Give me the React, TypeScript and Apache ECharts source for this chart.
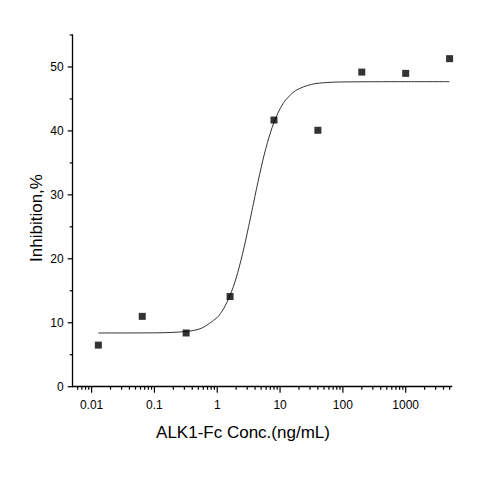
import { useEffect, useRef } from "react";
import * as echarts from "echarts";

// measured points (x in ng/mL, y in %)
const concentrations = [0.0128, 0.064, 0.32, 1.6, 8, 40, 200, 1000, 5000];
const inhibition = [6.5, 11.0, 8.4, 14.1, 41.7, 40.1, 49.2, 49.0, 51.3];

// fitted curve
const curveX = [
  0.0128, 0.1, 0.316, 0.562, 1, 1.12, 1.26, 1.41, 1.58, 1.78, 2.0, 2.24, 2.51,
  2.82, 3.16, 3.55, 3.98, 4.47, 5.01, 5.62, 6.31, 7.08, 7.94, 8.91, 10, 11.2,
  12.6, 17.8, 31.6, 56.2, 100, 1000, 5000,
];
const curveY = [
  8.4, 8.42, 8.63, 9.15, 10.82, 11.43, 12.18, 13.09, 14.18, 15.48, 16.99, 18.72,
  20.66, 22.79, 25.06, 27.41, 29.78, 32.1, 34.31, 36.36, 38.2, 39.83, 41.25,
  42.45, 43.45, 44.29, 44.97, 46.33, 47.28, 47.57, 47.66, 47.7, 47.7,
];

const xMin = 0.005;
const xMax = 5400;
const yMin = 0;
const yMax = 55;

const xMajorTicks = [0.01, 0.1, 1, 10, 100, 1000];
const xDecades = [0.001, 0.01, 0.1, 1, 10, 100, 1000];
const xMinorSteps = [2, 3, 4, 5, 6, 7, 8, 9];
const yMajorTicks = [0, 10, 20, 30, 40, 50];
const yMinorTicks = [5, 15, 25, 35, 45, 55];

const xTitle = "ALK1-Fc Conc.(ng/mL)";
const yTitle = "Inhibition,%";

function App() {
  const chartRef = useRef<HTMLDivElement>(null);

  useEffect(() => {
    if (!chartRef.current) return;
    document.body.style.margin = "0";
    const chart = echarts.init(chartRef.current, null, { renderer: "svg" });

    // tick marks: [x, y, length, direction (0 = down, 1 = left)]
    const ticks: number[][] = [];
    xMajorTicks.forEach((v) => ticks.push([v, yMin, 6, 0]));
    xDecades.forEach((d) =>
      xMinorSteps.forEach((s) => {
        const v = +(d * s).toPrecision(3);
        if (v > xMin && v < xMax) ticks.push([v, yMin, 3, 0]);
      })
    );
    yMajorTicks.forEach((v) => ticks.push([xMin, v, 5, 1]));
    yMinorTicks.forEach((v) => ticks.push([xMin, v, 3, 1]));

    const option = {
      animation: false,
      grid: {
        left: 72.7,
        right: 28.3,
        top: 35,
        bottom: 91.3,
        outerBoundsMode: "none",
      },
      xAxis: {
        type: "log",
        logBase: 10,
        min: xMin,
        max: xMax,
        axisLine: { lineStyle: { color: "#000", width: 1.3 } },
        axisTick: { show: false },
        splitLine: { show: false },
        minorTick: { show: false },
        axisLabel: {
          interval: 0,
          showMinLabel: false,
          showMaxLabel: false,
          margin: 12,
          color: "#000",
          fontSize: 12,
          fontFamily: "Liberation Sans, Arial, sans-serif",
          formatter: (v: number) => String(+v.toPrecision(3)),
        },
      },
      yAxis: {
        type: "value",
        min: yMin,
        max: yMax,
        interval: 10,
        axisLine: { show: true, lineStyle: { color: "#000", width: 1.3 } },
        axisTick: { show: false },
        splitLine: { show: false },
        axisLabel: {
          showMaxLabel: false,
          margin: 9,
          color: "#000",
          fontSize: 12,
          fontFamily: "Liberation Sans, Arial, sans-serif",
        },
      },
      graphic: [
        {
          type: "text",
          x: 243,
          y: 432,
          style: {
            text: xTitle,
            fill: "#000",
            fontSize: 17,
            fontFamily: "Liberation Sans, Arial, sans-serif",
            textAlign: "center",
            textVerticalAlign: "middle",
          },
        },
        {
          type: "text",
          x: 36,
          y: 218,
          rotation: Math.PI / 2,
          style: {
            text: yTitle,
            fill: "#000",
            fontSize: 17,
            fontFamily: "Liberation Sans, Arial, sans-serif",
            textAlign: "center",
            textVerticalAlign: "middle",
          },
        },
      ],
      series: [
        {
          type: "custom",
          silent: true,
          clip: false,
          data: ticks,
          encode: { x: 0, y: 1 },
          renderItem: (_params: any, api: any) => {
            const p = api.coord([api.value(0), api.value(1)]);
            const len = api.value(2);
            const dir = api.value(3);
            const end = dir === 0 ? [p[0], p[1] + len] : [p[0] - len, p[1]];
            return {
              type: "line",
              shape: { x1: p[0], y1: p[1], x2: end[0], y2: end[1] },
              style: { stroke: "#000", lineWidth: 1.2 },
            };
          },
        },
        {
          type: "line",
          data: curveX.map((x, i) => [x, curveY[i]]),
          showSymbol: false,
          smooth: 0.3,
          lineStyle: { color: "#333", width: 1 },
          z: 3,
        },
        {
          type: "scatter",
          data: concentrations.map((x, i) => [x, inhibition[i]]),
          symbol: "rect",
          symbolSize: 7,
          itemStyle: { color: "#000" },
          z: 4,
        },
      ],
    };

    chart.setOption(option);

    return () => {
      chart.dispose();
    };
  }, []);

  return <div ref={chartRef} style={{ width: "480px", height: "478px" }} />;
}

export default App;
